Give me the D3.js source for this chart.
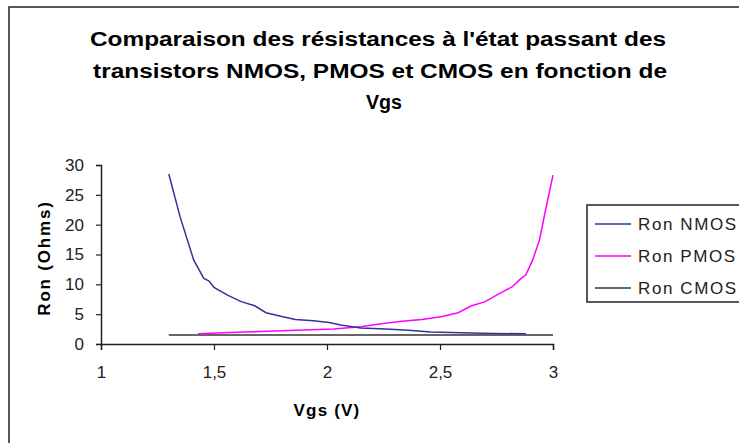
<!DOCTYPE html>
<html>
<head>
<meta charset="utf-8">
<script src="https://cdn.jsdelivr.net/npm/d3@7"></script>
<style>
  html, body { margin: 0; padding: 0; background: #fff; }
  svg { display: block; }
</style>
</head>
<body>
<svg id="chart" width="739" height="443"></svg>
<script>
// ---- data ----
const titleLines = ["Comparaison des résistances à l'état passant des",
                    "transistors NMOS, PMOS et CMOS en fonction de",
                    "Vgs"];
const xLabel = "Vgs (V)";
const yLabel = "Ron (Ohms)";
const seriesNames = ["Ron NMOS", "Ron PMOS", "Ron CMOS"];
const xTicks = [1, 1.5, 2, 2.5, 3];
const yTicks = [0, 5, 10, 15, 20, 25, 30];

const vgsNMOS = [1.30, 1.35, 1.41, 1.455, 1.477, 1.50, 1.56, 1.62, 1.68, 1.73, 1.80, 1.86, 1.94, 2.01, 2.06, 2.15, 2.26, 2.36, 2.46, 2.68, 2.88];
const ronNMOS = [28.5, 21.3, 14.1, 11.0, 10.6, 9.5, 8.2, 7.1, 6.4, 5.25, 4.6, 4.1, 3.9, 3.6, 3.2, 2.7, 2.5, 2.3, 2.0, 1.8, 1.7];

const vgsPMOS = [1.43, 1.63, 1.86, 2.03, 2.15, 2.24, 2.33, 2.42, 2.51, 2.58, 2.64, 2.70, 2.76, 2.82, 2.85, 2.88, 2.91, 2.94, 2.97, 3.00];
const ronPMOS = [1.7, 2.0, 2.3, 2.5, 2.9, 3.4, 3.8, 4.1, 4.6, 5.25, 6.4, 7.1, 8.4, 9.6, 10.7, 11.6, 14.1, 17.4, 23.0, 28.3];

const vgsCMOS = [1.30, 1.50, 1.70, 1.90, 2.10, 2.30, 2.50, 2.70, 2.90, 3.00];
const ronCMOS = [1.5, 1.5, 1.5, 1.5, 1.5, 1.5, 1.5, 1.5, 1.5, 1.5];

const colors = ["#333399", "#ff00ff", "#333333"];

// ---- layout ----
const svg = d3.select("#chart");
const x = d3.scaleLinear().domain([1, 3]).range([101, 553]);
const y = d3.scaleLinear().domain([0, 30]).range([344, 165]);

// outer chart border
svg.append("rect").attr("x", 9).attr("y", 7).attr("width", 760).attr("height", 460)
  .attr("fill", "#fff").attr("stroke", "#222").attr("stroke-width", 1.5);

// title
const titleFont = "'Liberation Sans', Arial, sans-serif";
const titleBase = [46, 78, 109];
const titleLen = [576, 574, 36];
titleLines.forEach((t, i) => {
  svg.append("text")
    .attr("x", [378, 380, 384][i]).attr("y", titleBase[i])
    .attr("text-anchor", "middle")
    .attr("font-family", titleFont).attr("font-weight", "bold").attr("font-size", 20)
    .attr("fill", "#000").text(t)
    .attr("textLength", titleLen[i]).attr("lengthAdjust", "spacingAndGlyphs");
});

// axes
const tickFont = "'Liberation Sans', Arial, sans-serif";
const xAxis = svg.append("g").attr("transform", `translate(0,${y(0)})`)
  .call(d3.axisBottom(x).tickValues(xTicks).tickSize(6).tickPadding(16)
        .tickFormat(d => d3.format("")(d).replace(".", ",")));
const yAxis = svg.append("g").attr("transform", `translate(${x(1)},0)`)
  .call(d3.axisLeft(y).tickValues(yTicks).tickSize(5).tickPadding(12));
[xAxis, yAxis].forEach(g => {
  g.select(".domain").attr("stroke", "#222").attr("stroke-width", 1.5);
  g.selectAll(".tick line").attr("stroke", "#222").attr("stroke-width", 1.2);
  g.selectAll(".tick text").attr("font-family", tickFont).attr("font-size", 17).attr("fill", "#222");
});

// axis titles
svg.append("text").attr("x", 327).attr("y", 416).attr("text-anchor", "middle")
  .attr("font-family", titleFont).attr("font-weight", "bold").attr("font-size", 17)
  .attr("letter-spacing", 1.2).text(xLabel);
svg.append("text").attr("transform", "translate(50,258) rotate(-90)").attr("text-anchor", "middle")
  .attr("font-family", titleFont).attr("font-weight", "bold").attr("font-size", 17)
  .attr("letter-spacing", 1.8).text(yLabel);

// series
const line = d3.line().x(d => x(d[0])).y(d => y(d[1]));
const series = [
  d3.zip(vgsNMOS, ronNMOS),
  d3.zip(vgsPMOS, ronPMOS),
  d3.zip(vgsCMOS, ronCMOS)
];
[2, 1, 0].forEach(i => {
  svg.append("path").datum(series[i]).attr("d", line)
    .attr("fill", "none").attr("stroke", colors[i]).attr("stroke-width", 1.5);
});

// legend
const lg = svg.append("g");
lg.append("rect").attr("x", 587).attr("y", 205).attr("width", 170).attr("height", 97)
  .attr("fill", "#fff").attr("stroke", "#222").attr("stroke-width", 1.5);
const rowY = [224, 256, 288];
seriesNames.forEach((n, i) => {
  lg.append("line").attr("x1", 595).attr("x2", 631).attr("y1", rowY[i]).attr("y2", rowY[i])
    .attr("stroke", colors[i]).attr("stroke-width", 1.5);
  lg.append("text").attr("x", 638).attr("y", rowY[i]).attr("dy", "0.36em")
    .attr("font-family", tickFont).attr("font-size", 17).attr("letter-spacing", 1.6)
    .attr("fill", "#222").text(n);
});
</script>
</body>
</html>
